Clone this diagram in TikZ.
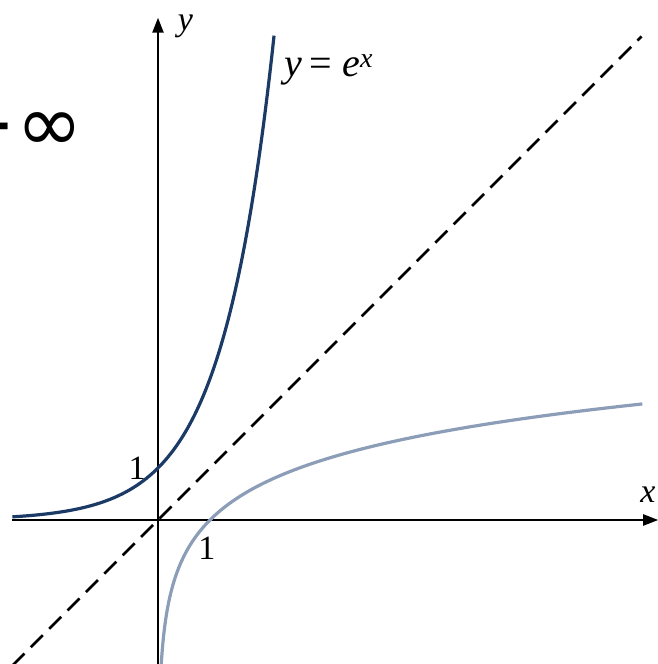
\documentclass[tikz,border=0pt]{standalone}
\usepackage{fontspec}
\setmainfont{Liberation Serif}
\newfontfamily\symfont{DejaVu Sans}
\usetikzlibrary{arrows.meta}
\definecolor{expblue}{HTML}{1B3A66}
\definecolor{lnblue}{HTML}{8C9DB8}
\tikzset{
  axisline/.style={line width=2.2pt,-{Triangle[length=15pt,width=11pt]}},
  curve/.style={line width=3.2pt,smooth},
  diag/.style={line width=2.6pt,dash pattern=on 17pt off 9pt},
  lbl/.style={font=\fontsize{34}{40}\selectfont\itshape,inner sep=0pt},
  numlbl/.style={font=\fontsize{34}{40}\selectfont,inner sep=0pt}
}
\begin{document}
\begin{tikzpicture}[x=1pt,y=1pt]
\useasboundingbox (0,0) rectangle (658,664);
\clip (0,0) rectangle (658,664);
\node[anchor=base west,inner sep=0pt,font=\symfont\fontsize{80}{88}\selectfont] (inf) at (-51,512) {−∞};
\begin{scope}[shift={(158,144)},x=52pt,y=52pt]
  \coordinate (xs) at (-2.81,0);
  \coordinate (xe) at (9.62,0);
  \coordinate (ys) at (0,-2.8);
  \coordinate (ye) at (0,9.66);
  \coordinate (ds) at (-2.8,-2.8);
  \coordinate (de) at (9.3,9.3);
  \draw[axisline] (xs) -- (xe);
  \draw[axisline] (ys) -- (ye);
  \draw[diag] (ds) -- (de);
  \draw[curve,expblue] plot[domain=-2.8:2.233,samples=120] (\x,{exp(\x)});
  \draw[curve,lnblue] plot[domain=-2.8:2.233,samples=120] ({exp(\x)},\x);
  \node[lbl,anchor=base west] (ylab) at (0.38,9.42) {y};
  \node[lbl] (xlab) at (9.42,0.48) {x};
  \node[lbl,font=\fontsize{40}{46}\selectfont\itshape,anchor=base west] (explab) at (2.42,8.52) {y\kern0.2em\upshape=\kern0.25em\itshape e\textsuperscript{\itshape x}};
  \node[numlbl] (one y) at (-0.40,1.0) {1};
  \node[numlbl] (one x) at (0.94,-0.54) {1};
\end{scope}
\end{tikzpicture}
\end{document}
